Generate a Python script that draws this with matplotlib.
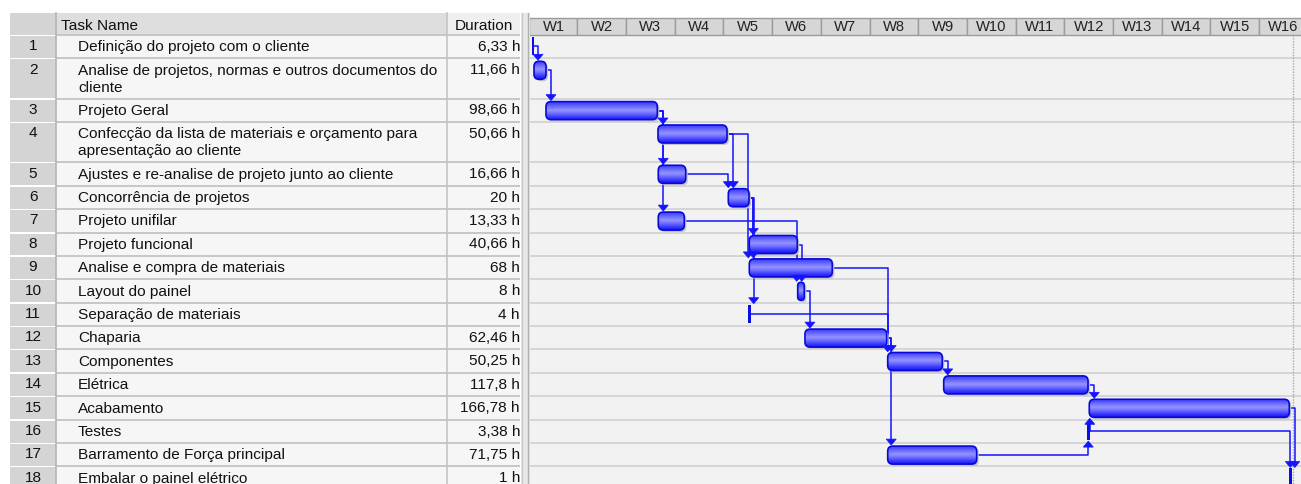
import numpy as np
import matplotlib.pyplot as plt
from matplotlib.patches import Rectangle, FancyBboxPatch, Polygon
from matplotlib.colors import LinearSegmentedColormap

plt.rcParams['font.family'] = ['Liberation Sans', 'DejaVu Sans']

task_names = [
    "Definição do projeto com o cliente",
    "Analise de projetos, normas e outros documentos do\ncliente",
    "Projeto Geral",
    "Confecção da lista de materiais e orçamento para\napresentação ao cliente",
    "Ajustes e re-analise de projeto junto ao cliente",
    "Concorrência de projetos",
    "Projeto unifilar",
    "Projeto funcional",
    "Analise e compra de materiais",
    "Layout do painel",
    "Separação de materiais",
    "Chaparia",
    "Componentes",
    "Elétrica",
    "Acabamento",
    "Testes",
    "Barramento de Força principal",
    "Embalar o painel elétrico",
]
durations = ["6,33 h", "11,66 h", "98,66 h", "50,66 h", "16,66 h", "20 h",
             "13,33 h", "40,66 h", "68 h", "8 h", "4 h", "62,46 h", "50,25 h",
             "117,8 h", "166,78 h", "3,38 h", "71,75 h", "1 h"]
# bar start / finish, in weeks counted from the start of W1
bar_start = [0.076, 0.111, 0.357, 2.657, 2.663, 4.101, 2.663, 4.532, 4.532,
             5.526, 4.499, 5.675, 7.374, 8.524, 11.513, 11.472, 7.374, 15.62]
bar_end = [0.106, 0.357, 2.643, 4.074, 3.226, 4.526, 3.197, 5.517, 6.236,
           5.661, 4.561, 7.353, 8.495, 11.487, 15.62, 11.527, 9.201, 15.675]
week_labels = ["W%d" % i for i in range(1, 17)]
# predecessor -> successor
links = [(1, 2), (2, 3), (3, 4), (3, 5), (3, 7), (4, 6), (5, 6), (4, 9),
         (6, 8), (6, 9), (6, 11), (7, 10), (8, 10), (10, 12), (9, 13),
         (11, 13), (12, 13), (12, 17), (13, 14), (14, 15), (17, 16),
         (16, 15), (15, 18), (16, 18)]

# ---- layout (pixels) ----
W, H = 1301, 484
PX_WEEK = 48.7
X0 = 528.6            # pixel of week 0
ROW1, ROW2 = 23.4, 40.3
TOP = 34.9
GANTT_LEFT = 530
BLUE = '#1414ff'

# where the link line turns down, in px after the successor's start
link_offset = {(5, 6): 0, (4, 9): -1, (6, 11): 6, (7, 10): -1, (9, 13): 0,
               (11, 13): 0, (17, 16): 1, (16, 15): 0.5, (16, 18): 1,
               (1, 2): 4, (6, 8): 4, (6, 9): 4, (8, 10): 4, (12, 13): 3.5,
               (12, 17): 3.5, (13, 14): 4, (15, 18): 5.5}

n_lines = [name.count('\n') + 1 for name in task_names]
row_h = [ROW1 if n == 1 else ROW2 for n in n_lines]
row_top = list(TOP + np.concatenate([[0], np.cumsum(row_h)[:-1]]))

fig = plt.figure(figsize=(W / 100, H / 100), dpi=100)
fig.patch.set_facecolor('white')

# ================= table =================
ax = fig.add_axes([0, 0, 1, 1])
ax.set_xlim(0, W)
ax.set_ylim(H, 0)
ax.axis('off')

FS = 11.1
BASE = 16.4
# header
ax.add_patch(Rectangle((10, 13), 46, TOP - 13, fc='#d4d4d4', ec='none'))
ax.add_patch(Rectangle((56, 13), 391, TOP - 13, fc='#dedede', ec='none'))
ax.add_patch(Rectangle((447, 13), 73, TOP - 13, fc='#efefef', ec='none'))
ax.text(61, 29.5, "Task Name", fontsize=FS, color='#111111', va='baseline')
ax.text(484, 29.5, "Duration", fontsize=FS, color='#111111', va='baseline', ha='center')

for i, name in enumerate(task_names):
    y = row_top[i]
    h = row_h[i]
    ax.add_patch(Rectangle((10, y + 1), 46, h - 1.5, fc='#d4d4d4', ec='none'))
    ax.add_patch(Rectangle((56, y), 464, h, fc='#f6f6f6', ec='none'))
    ax.plot([56, 520], [y, y], color='#c4c4c4', lw=1.3, solid_capstyle='butt')
    ax.text(33, y + BASE - 1, str(i + 1), fontsize=FS, ha='center', va='baseline', color='#111111')
    for j, line in enumerate(name.split('\n')):
        ax.text(78, y + BASE + j * 17, line, fontsize=FS, va='baseline', color='#111111')
    ax.text(520, y + BASE - 0.5, durations[i], fontsize=FS, ha='right', va='baseline', color='#111111')

ax.plot([56, 56], [13, H], color='#b4b4b4', lw=1.2)
ax.plot([447, 447], [13, H], color='#c4c4c4', lw=1.2)
ax.add_patch(Rectangle((521, 13), 9, H - 13, fc='#e8e8e8', ec='none'))
ax.plot([521.5, 521.5], [13, H], color='#c8c8c8', lw=1)
ax.plot([527.5, 527.5], [13, H], color='#b0b0b0', lw=1)

# ================= gantt =================
g = fig.add_axes([GANTT_LEFT / W, 0, (W - GANTT_LEFT) / W, 1])
xmin = (GANTT_LEFT - X0) / PX_WEEK
xmax = (W - X0) / PX_WEEK
g.axis('off')
px = 1.0 / PX_WEEK   # one pixel in week units

g.add_patch(Rectangle((xmin, TOP), xmax - xmin, H - TOP, fc='#f2f2f2', ec='none', zorder=0))
for i in range(len(task_names) + 1):
    y = TOP + sum(row_h[:i])
    g.plot([xmin, xmax], [y, y], color='#d2d2d2', lw=1.3, zorder=1)

# timescale header
for i, lab in enumerate(week_labels):
    g.add_patch(Rectangle((i, 17.5), 1, TOP - 17.5, fc='#d6d6d6', ec='#9c9c9c', lw=1, zorder=1))
    cx = max(i, xmin) + (i + 1 - max(i, xmin)) / 2
    g.text(cx, 31, lab, fontsize=10.6, ha='center', va='baseline', color='#222222', zorder=2)

# project finish line
g.plot([15.7, 15.7], [TOP, H], color='#a8a8a8', lw=1, ls=(0, (1, 1)), zorder=1)

grad_cmap = LinearSegmentedColormap.from_list(
    'bar', [(0, '#3a3aff'), (0.22, '#6666ff'), (0.45, '#9494ff'),
            (0.65, '#6a6aff'), (0.85, '#3636ff'), (1, '#1818f0')])
grad = np.linspace(0, 1, 64).reshape(-1, 1)

BAR_OFF, BAR_H = 3.0, 18.0


def bar_top(i):
    if (bar_end[i] - bar_start[i]) * PX_WEEK < 5:
        return row_top[i] + 2
    return row_top[i] + BAR_OFF


def bar_bottom(i):
    if (bar_end[i] - bar_start[i]) * PX_WEEK < 5:
        return row_top[i] + row_h[i] - 3
    return row_top[i] + BAR_OFF + BAR_H


for i in range(len(task_names)):
    x0, x1 = bar_start[i], bar_end[i]
    w = x1 - x0
    top = bar_top(i)
    if w * PX_WEEK < 5:
        g.add_patch(Rectangle((x0, top), w, bar_bottom(i) - top, fc='#0c0ce8', ec='none', zorder=4))
        continue
    r = min(5 * px, w / 2)
    style = "round,pad=0,rounding_size=%f" % r
    shadow = FancyBboxPatch((x0 + 2 * px, top + 2), w, BAR_H, boxstyle=style,
                            mutation_aspect=PX_WEEK, fc='#c4c4c4', ec='none', zorder=3)
    g.add_patch(shadow)
    clip = FancyBboxPatch((x0, top), w, BAR_H, boxstyle=style,
                          mutation_aspect=PX_WEEK, fc='none', ec='none', zorder=4)
    g.add_patch(clip)
    im = g.imshow(grad, extent=(x0, x1, top + BAR_H, top), aspect='auto',
                  cmap=grad_cmap, interpolation='bilinear', zorder=4)
    im.set_clip_path(clip)
    g.add_patch(FancyBboxPatch((x0, top), w, BAR_H, boxstyle=style,
                               mutation_aspect=PX_WEEK, fc='none', ec='#0808d8',
                               lw=1.2, zorder=5))

# links: lines behind the bars, arrowheads on top
for p, s in links:
    a, b = p - 1, s - 1
    xe = bar_end[a]
    ym = (bar_top(a) + bar_bottom(a)) / 2
    xd = bar_start[b] + link_offset.get((p, s), 5) * px
    if s > p:
        yt = bar_top(b) - 1
        g.plot([xe, xd, xd], [ym, ym, yt - 4], color=BLUE, lw=1.1, zorder=2)
        tri = [(xd - 5 * px, yt - 6), (xd + 5 * px, yt - 6), (xd, yt)]
    else:
        yt = bar_bottom(b) + 1
        g.plot([xe, xd, xd], [ym, ym, yt + 4], color=BLUE, lw=1.1, zorder=2)
        tri = [(xd - 5 * px, yt + 6), (xd + 5 * px, yt + 6), (xd, yt)]
    g.add_patch(Polygon(tri, closed=True, fc=BLUE, ec=BLUE, lw=0.5, zorder=6))

g.set_xlim(xmin, xmax)
g.set_ylim(H, 0)

fig.savefig('out.png', dpi=100, facecolor='white')
